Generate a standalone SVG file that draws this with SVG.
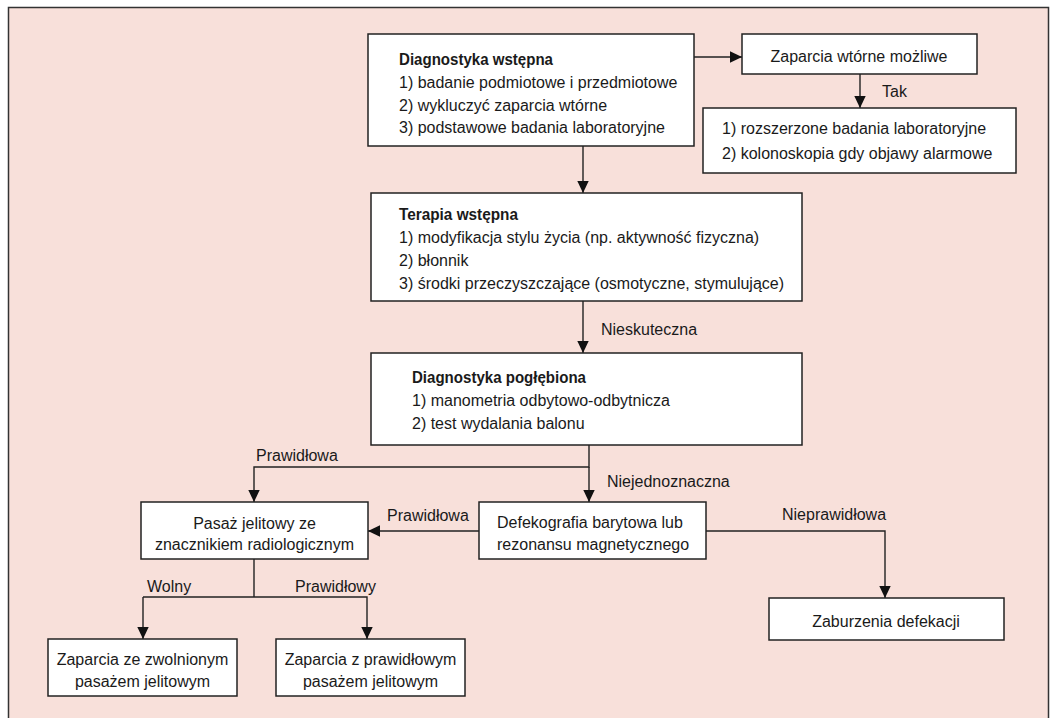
<svg xmlns="http://www.w3.org/2000/svg" width="1055" height="718" viewBox="0 0 1055 718">
<defs>
<style>
.frame{fill:#f8e0da;stroke:#333;stroke-width:1.5}
.box{fill:#fff;stroke:#222;stroke-width:1.5}
.ln{fill:none;stroke:#222;stroke-width:1.4}
text{font-family:"Liberation Sans",Arial,sans-serif;font-size:16px;fill:#1a1a1a}
.b{font-weight:bold}
.c{text-anchor:middle}
</style>
<marker id="ah" markerUnits="userSpaceOnUse" markerWidth="12" markerHeight="12" viewBox="0 0 12 12" refX="12" refY="6" orient="auto">
<path d="M0,0.3 L12,6 L0,11.7 z" fill="#111"/>
</marker>
</defs>
<rect x="0" y="0" width="1055" height="718" fill="#fff"/>
<rect class="frame" x="8.5" y="7.5" width="1040" height="720"/>

<g id="connectors">
<line class="ln" x1="694" y1="57" x2="742" y2="57" marker-end="url(#ah)"/>
<line class="ln" x1="860" y1="74" x2="860" y2="108" marker-end="url(#ah)"/>
<text x="882" y="97">Tak</text>
<line class="ln" x1="583" y1="146" x2="583" y2="193" marker-end="url(#ah)"/>
<line class="ln" x1="583" y1="301" x2="583" y2="353" marker-end="url(#ah)"/>
<text x="601" y="335">Nieskuteczna</text>
<polyline class="ln" points="589,445 589,467 254,467 254,502" marker-end="url(#ah)"/>
<line class="ln" x1="589" y1="467" x2="589" y2="502" marker-end="url(#ah)"/>
<text x="256" y="461">Prawidłowa</text>
<text x="607" y="487">Niejednoznaczna</text>
<line class="ln" x1="479" y1="531" x2="368" y2="531" marker-end="url(#ah)"/>
<text x="387" y="521">Prawidłowa</text>
<polyline class="ln" points="706,531 885,531 885,598" marker-end="url(#ah)"/>
<text x="782" y="520">Nieprawidłowa</text>
<line class="ln" x1="254" y1="559" x2="254" y2="597"/>
<polyline class="ln" points="143,597 367,597 367,639" marker-end="url(#ah)"/>
<line class="ln" x1="143" y1="597" x2="143" y2="639" marker-end="url(#ah)"/>
<text x="147" y="592">Wolny</text>
<text x="295" y="592">Prawidłowy</text>
</g>

<g id="n1">
<rect class="box" x="368" y="34" width="326" height="112"/>
<text class="b" x="399" y="65" textLength="154" lengthAdjust="spacingAndGlyphs">Diagnostyka wstępna</text>
<text x="399" y="88">1) badanie podmiotowe i przedmiotowe</text>
<text x="399" y="110.5">2) wykluczyć zaparcia wtórne</text>
<text x="399" y="133">3) podstawowe badania laboratoryjne</text>
</g>
<g id="n2">
<rect class="box" x="742" y="34" width="235" height="40"/>
<text class="c" x="859" y="62">Zaparcia wtórne możliwe</text>
</g>
<g id="n3">
<rect class="box" x="703" y="108" width="313" height="65"/>
<text x="722" y="134">1) rozszerzone badania laboratoryjne</text>
<text x="722" y="159">2) kolonoskopia gdy objawy alarmowe</text>
</g>
<g id="n4">
<rect class="box" x="371" y="193" width="431" height="108"/>
<text class="b" x="399" y="219.5" textLength="119" lengthAdjust="spacingAndGlyphs">Terapia wstępna</text>
<text x="399" y="242.5">1) modyfikacja stylu życia (np. aktywność fizyczna)</text>
<text x="399" y="265.5">2) błonnik</text>
<text x="399" y="288.5">3) środki przeczyszczające (osmotyczne, stymulujące)</text>
</g>
<g id="n5">
<rect class="box" x="371" y="353" width="431" height="92"/>
<text class="b" x="412" y="383" textLength="174" lengthAdjust="spacingAndGlyphs">Diagnostyka pogłębiona</text>
<text x="412" y="406">1) manometria odbytowo-odbytnicza</text>
<text x="412" y="429">2) test wydalania balonu</text>
</g>
<g id="n6">
<rect class="box" x="141" y="502" width="227" height="57"/>
<text class="c" x="254.5" y="529">Pasaż jelitowy ze</text>
<text class="c" x="254.5" y="550">znacznikiem radiologicznym</text>
</g>
<g id="n7">
<rect class="box" x="479" y="502" width="227" height="57"/>
<text x="497" y="528">Defekografia barytowa lub</text>
<text x="497" y="550">rezonansu magnetycznego</text>
</g>
<g id="n8">
<rect class="box" x="769" y="598" width="235" height="42"/>
<text class="c" x="886" y="627">Zaburzenia defekacji</text>
</g>
<g id="n9">
<rect class="box" x="48" y="639" width="189" height="57"/>
<text class="c" x="142.5" y="665">Zaparcia ze zwolnionym</text>
<text class="c" x="142.5" y="687">pasażem jelitowym</text>
</g>
<g id="n10">
<rect class="box" x="276" y="639" width="189" height="57"/>
<text class="c" x="370.5" y="665">Zaparcia z prawidłowym</text>
<text class="c" x="370.5" y="687">pasażem jelitowym</text>
</g>
</svg>
